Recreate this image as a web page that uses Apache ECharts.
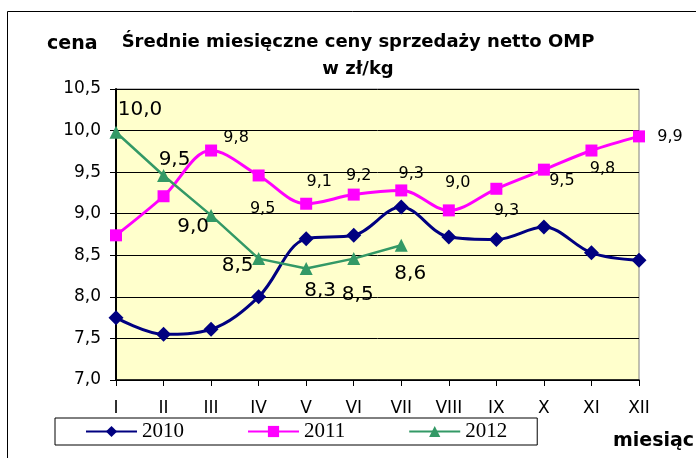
<!DOCTYPE html>
<html>
<head>
<meta charset="utf-8">
<script src="https://cdn.jsdelivr.net/npm/echarts@6/dist/echarts.min.js"></script>
<style>html,body{margin:0;padding:0;background:#fff;}#c{width:696px;height:458px;}</style>
</head>
<body>
<div id="c"></div>
<script>
const months = ['I','II','III','IV','V','VI','VII','VIII','IX','X','XI','XII'];
const yearNames = ['2010','2011','2012'];
const values2010 = [7.75, 7.55, 7.61, 8.00, 8.70, 8.74, 9.08, 8.72, 8.69, 8.84, 8.53, 8.44];
const values2011 = [8.74, 9.21, 9.76, 9.46, 9.12, 9.23, 9.28, 9.04, 9.30, 9.53, 9.76, 9.93];
const values2012 = [9.98, 9.46, 8.98, 8.46, 8.34, 8.46, 8.62];
const yTicks = [7.0, 7.5, 8.0, 8.5, 9.0, 9.5, 10.0, 10.5];

// label offsets (px) relative to each point; null = no label
const off2011 = [null, null, [25,-13], [4,33], [13,-22], [5,-19], [10,-17], [9,-28], [10,22], [18,11], [11,18], [31,0]];
const off2012 = [[24,-22], [11,-16], [-18,11], [-21,7], [14,22], [4,36], [9,28]];

const fmt = v => v.toFixed(1).replace('.', ',');
const FONT = 'DejaVu Sans, Verdana, sans-serif';

function withLabels(vals, offs, size) {
  return vals.map((v, i) => {
    const o = offs[i];
    if (!o) return { value: v };
    return {
      value: v,
      label: { show: true, position: 'inside', offset: o, align: 'center', verticalAlign: 'middle',
               formatter: p => fmt(p.value), color: '#000', fontSize: size, fontFamily: FONT }
    };
  });
}

const chart = echarts.init(document.getElementById('c'), null, { renderer: 'canvas' });
chart.setOption({
  animation: false,
  backgroundColor: '#fff',
  graphic: [
    { type: 'rect', shape: { x: 7.5, y: 11.5, width: 800, height: 600 }, style: { fill: 'none', stroke: '#000', lineWidth: 1 }, z: -1 },
    { type: 'text', left: 47, top: 35, style: { text: 'cena', font: 'bold 19px ' + FONT, fill: '#000' } },
    { type: 'text', left: 613, top: 432, style: { text: 'miesiąc', font: 'bold 19px ' + FONT, fill: '#000' } }
  ],
  title: {
    text: 'Średnie miesięczne ceny sprzedaży netto OMP\nw zł/kg',
    left: 353, top: 24, textAlign: 'center',
    textStyle: { fontFamily: FONT, fontSize: 18, fontWeight: 'bold', color: '#000', lineHeight: 27 }
  },
  legend: {
    left: 55, top: 418,
    padding: [3, 30, 3, 30],
    itemGap: 63, itemWidth: 51, itemHeight: 14,
    borderColor: '#000', borderWidth: 1, backgroundColor: '#fff',
    textStyle: { fontFamily: 'Liberation Serif, Times New Roman, serif', fontSize: 21, color: '#000' },
    data: yearNames
  },
  grid: { left: 116, right: 57, top: 89, bottom: 78, show: true, backgroundColor: '#FFFFCC', borderColor: '#808080', borderWidth: 1 },
  xAxis: {
    type: 'category', data: months, boundaryGap: false,
    axisLine: { lineStyle: { color: '#000', width: 1.5 } },
    axisTick: { show: true, length: 6, lineStyle: { color: '#000' }, alignWithLabel: true },
    axisLabel: { color: '#000', fontFamily: FONT, fontSize: 17, margin: 20 },
    splitLine: { show: false }
  },
  yAxis: {
    type: 'value', min: 7, max: 10.5, interval: 0.5,
    axisLine: { show: true, lineStyle: { color: '#000', width: 2 } },
    axisTick: { show: true, length: 6, lineStyle: { color: '#000' } },
    axisLabel: { color: '#000', fontFamily: FONT, fontSize: 17, margin: 15, formatter: v => fmt(v) },
    splitLine: { show: true, lineStyle: { color: '#000', width: 1 } }
  },
  series: [
    { name: yearNames[0], type: 'line', data: values2010, smooth: 0.35,
      symbol: 'diamond', symbolSize: 15, itemStyle: { color: '#000080' },
      lineStyle: { color: '#000080', width: 3 }, z: 3 },
    { name: yearNames[1], type: 'line', data: withLabels(values2011, off2011, 16), smooth: 0.35,
      symbol: 'rect', symbolSize: 12, itemStyle: { color: '#FF00FF' },
      lineStyle: { color: '#FF00FF', width: 3 }, z: 4 },
    { name: yearNames[2], type: 'line', data: withLabels(values2012, off2012, 20), smooth: false,
      symbol: 'triangle', symbolSize: 13, itemStyle: { color: '#339966' },
      lineStyle: { color: '#339966', width: 2.5 }, z: 5 }
  ]
});
</script>
</body>
</html>
